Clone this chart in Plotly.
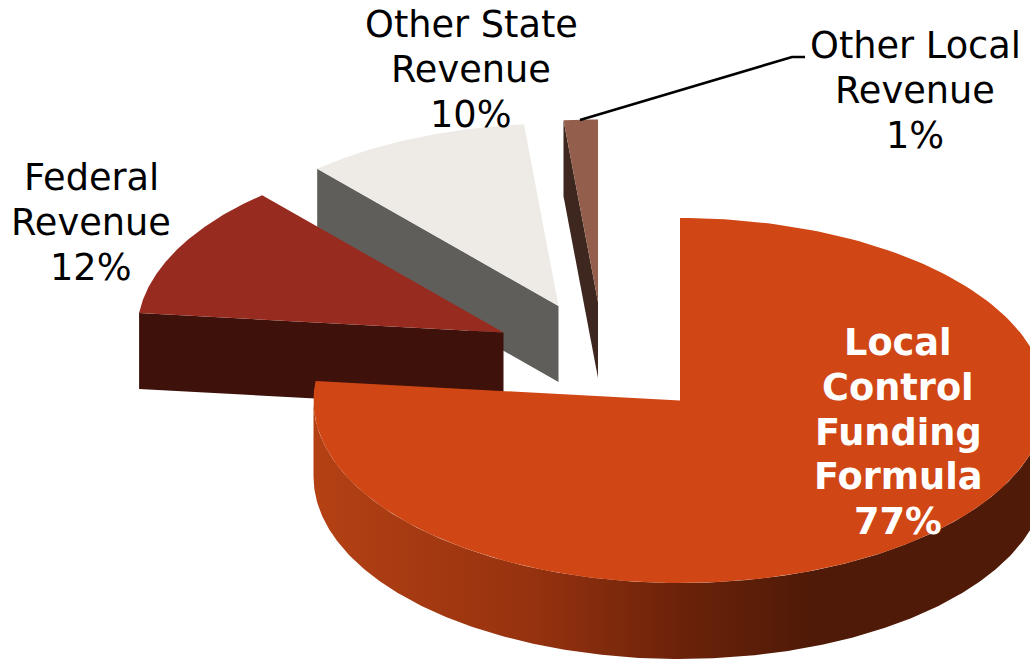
import numpy as np
import plotly.graph_objects as go

# ---- data ----
categories = ["Local Control Funding Formula", "Federal Revenue", "Other State Revenue", "Other Local Revenue"]
values = [76.7, 11.86, 9.94, 1.5]
label_lines = [["Local", "Control", "Funding", "Formula", "77%"],
               ["Federal", "Revenue", "12%"],
               ["Other State", "Revenue", "10%"],
               ["Other Local", "Revenue", "1%"]]

# ---- style / layout ----
W, H = 1030, 659
RX, RY, DEPTH = 366.5, 182.5, 76
centers = [(680, 400.5), (503.5, 332.5), (558.5, 306), (598, 302)]
top_colors = ["#D04715", "#982B1F", "#EEEBE6", "#935F4C"]
face_colors = [None, "#3E110A", "#5F5E5B", "#3E271F"]
label_x = [898, 91, 471, 915]
label_first_baseline = [355, 190, 37, 58]
LINE_STEP = 44.7
BASE_TO_MID = 12.2
label_colors = ["white", "black", "black", "black"]
FONT = "DejaVu Sans"
SIZE = 36.7


def pt(cx, cy, deg):
    r = np.radians(deg)
    return cx + RX * np.sin(r), cy - RY * np.cos(r)


edges = np.concatenate([[0], np.cumsum(values)]) * 3.6
fig = go.Figure()


def poly(xs, ys, name, color=None, grad=None):
    kw = dict(x=list(xs) + [xs[0]], y=list(ys) + [ys[0]], mode="lines", fill="toself", name=name,
              line=dict(width=0), hoverinfo="name", showlegend=False)
    if grad is not None:
        kw["fillgradient"] = grad
    else:
        kw["fillcolor"] = color
    fig.add_trace(go.Scatter(**kw))


# drawn back to front: local, state, federal, main
for i in [3, 2, 1, 0]:
    a0, a1 = edges[i], edges[i + 1]
    cx, cy = centers[i]
    ang = np.linspace(a0, a1, 200)
    ax, ay = pt(cx, cy, ang)
    if i == 0:
        side = np.linspace(90, 270, 300)
        sx, sy = pt(cx, cy, side)
        poly(np.r_[sx, sx[::-1]], np.r_[sy, sy[::-1] + DEPTH], categories[i],
             grad=dict(type="horizontal", start=313, stop=1047,
                       colorscale=[[0, "#B44114"], [0.298, "#96320F"], [0.489, "#6E230A"],
                                   [0.678, "#4F1A07"], [1, "#4F1A07"]]))
    else:
        sx, sy = pt(cx, cy, a0)
        poly([sx, cx, cx, sx], [sy, cy, cy + DEPTH, sy + DEPTH], categories[i], color=face_colors[i])
    poly(np.r_[cx, ax], np.r_[cy, ay], categories[i], color=top_colors[i])

# leader line for the smallest slice
fig.add_trace(go.Scatter(x=[580, 792, 805], y=[120, 57, 57], mode="lines", hoverinfo="skip",
                         line=dict(color="black", width=2.6), showlegend=False))

for i, lines in enumerate(label_lines):
    for j, s in enumerate(lines):
        fig.add_annotation(x=label_x[i], y=label_first_baseline[i] + j * LINE_STEP - BASE_TO_MID,
                           text=f"<b>{s}</b>" if i == 0 else s, showarrow=False,
                           xanchor="center", yanchor="middle", align="center",
                           font=dict(family=FONT, size=SIZE, color=label_colors[i]))

fig.update_layout(width=W, height=H, margin=dict(l=0, r=0, t=0, b=0),
                  paper_bgcolor="white", plot_bgcolor="white", showlegend=False,
                  xaxis=dict(range=[0, W], visible=False, fixedrange=True),
                  yaxis=dict(range=[H, 0], visible=False, fixedrange=True))
fig.write_html("out.html", config={"displayModeBar": False},
               post_script="document.body.style.margin='0';")
